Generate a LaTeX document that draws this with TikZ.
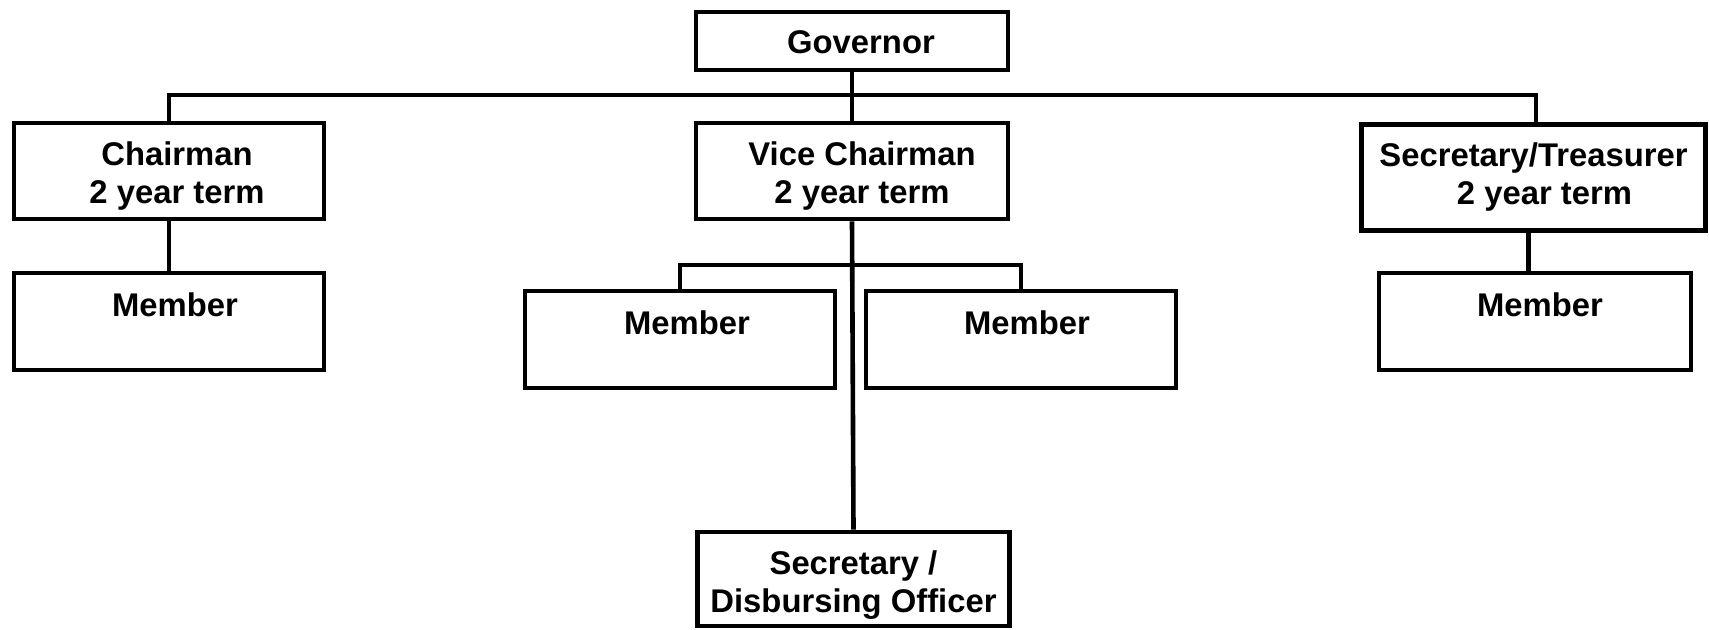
\documentclass[tikz,border=0pt]{standalone}
\usepackage{fontspec}
\setmainfont{Liberation Sans}
% #1 = horizontal shift (pt, moves text right by #1/2 pt), #2 = extra height (moves text down by #2/2)
\newcommand\lbl[3]{\hspace*{#1}\raisebox{0pt}[\dimexpr\height+#2\relax][\depth]{\begin{tabular}{@{}c@{}}#3\end{tabular}}}
\begin{document}
\begin{tikzpicture}[x=0.5pt,y=-0.5pt,
  box/.style={draw, line width=2.4pt, rectangle, inner sep=0pt,
    font=\fontsize{16.4}{19}\selectfont\bfseries},
  conn/.style={line width=2.3pt}]
\useasboundingbox (0,0) rectangle (1709,629);
\node[box, minimum width=156pt, minimum height=29pt] (gov) at (852,41) {\lbl{9pt}{4.5pt}{Governor}};
\node[box, minimum width=155pt, minimum height=48pt] (chair) at (169,171) {\lbl{8pt}{6pt}{Chairman\\2 year term}};
\node[box, minimum width=156pt, minimum height=48pt] (vc) at (852,171) {\lbl{10pt}{6pt}{Vice Chairman\\2 year term}};
\node[box, minimum width=172pt, minimum height=53pt] (st) at (1533.5,177.5) {\lbl{0pt}{0pt}{Secretary/Treasurer\\\hspace*{11pt}2 year term}};
\node[box, minimum width=155pt, minimum height=48.5pt] (m1) at (169,321.5) {\lbl{6pt}{6.5pt}{Member\\\mbox{}}};
\node[box, minimum width=155pt, minimum height=48.5pt] (m2) at (680,339.5) {\lbl{7pt}{6.5pt}{Member\\\mbox{}}};
\node[box, minimum width=155pt, minimum height=48.5pt] (m3) at (1021,339.5) {\lbl{6pt}{6.5pt}{Member\\\mbox{}}};
\node[box, minimum width=156pt, minimum height=48.5pt] (m4) at (1535,321.5) {\lbl{5pt}{6.5pt}{Member\\\mbox{}}};
\node[box, minimum width=156pt, minimum height=47pt] (sd) at (853.5,579) {\lbl{0pt}{6.5pt}{Secretary /\\Disbursing Officer}};
\coordinate (bus) at (0,95);
\coordinate (sub) at (0,265);
\coordinate (stx) at (1536,0);
\draw[conn] (gov.south) -- (vc.north);
\draw[conn] (chair.north) -- (chair.north |- bus) -- (stx |- bus) -- (stx |- st.north);
\draw[conn] (chair.south) -- (m1.north);
\draw[conn] (vc.south) -- (sd.north);
\draw[conn] (m2.north) -- (m2.north |- sub) -- (m3.north |- sub) -- (m3.north);
\draw[conn] ([xshift=-2.5pt]st.south) -- ([xshift=-2.5pt]st.south |- m4.north);
\end{tikzpicture}
\end{document}
